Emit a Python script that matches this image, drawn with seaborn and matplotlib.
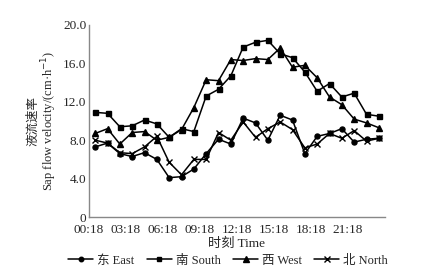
import numpy as np
import pandas as pd
import seaborn as sns
import matplotlib.pyplot as plt

# hourly readings, 00:18 .. 23:18
hours = np.arange(24)
east = [7.3, 7.7, 6.6, 6.3, 6.7, 6.0, 4.1, 4.2, 5.0, 6.6, 8.1, 7.6,
        10.3, 9.8, 8.0, 10.6, 10.1, 6.6, 8.4, 8.7, 9.2, 7.8, 8.1, 8.2]
south = [10.9, 10.8, 9.4, 9.5, 10.1, 9.7, 8.3, 9.2, 8.9, 12.6, 13.3, 14.7,
         17.7, 18.2, 18.4, 17.0, 16.6, 15.1, 13.1, 13.9, 12.5, 12.9, 10.7, 10.5]
west = [8.7, 9.2, 7.6, 8.8, 8.9, 8.0, 8.3, 9.1, 11.4, 14.3, 14.2, 16.4,
        16.3, 16.5, 16.4, 17.6, 15.6, 15.8, 14.5, 12.5, 11.7, 10.2, 9.8, 9.3]
north = [8.0, 7.7, 6.7, 6.6, 7.3, 8.4, 5.7, 4.4, 6.0, 6.0, 8.8, 8.0,
         9.9, 8.3, 9.2, 9.9, 9.1, 7.2, 7.6, 8.7, 8.2, 9.0, 7.9, 8.2]
series_names = ['东 East', '南 South', '西 West', '北 North']
tick_labels = ['00:18', '03:18', '06:18', '09:18', '12:18', '15:18', '18:18', '21:18', '']

df = pd.DataFrame({'hour': np.tile(hours, 4),
                   'v': east + south + west + north,
                   'dir': np.repeat(series_names, 24)})

sns.set_style('white')
plt.rcParams['font.family'] = ['Liberation Serif', 'Noto Sans CJK SC']
plt.rcParams['font.size'] = 9.5

fig = plt.figure(figsize=(4.21, 2.79), dpi=100)
ax = fig.add_axes([89 / 421, 62 / 279, 296 / 421, 192 / 279])

markers = {'东 East': 'o', '南 South': 's', '西 West': '^', '北 North': 'x'}
sizes = {'东 East': 3.6, '南 South': 3.6, '西 West': 4.2, '北 North': 4.5}
for name in series_names:
    sub = df[df['dir'] == name]
    sns.lineplot(data=sub, x='hour', y='v', ax=ax, color='black', lw=1.1,
                 marker=markers[name], markersize=sizes[name],
                 markeredgewidth=1.0, markeredgecolor='black', label=name)

ax.set_xlim(-0.5, 23.5)
ax.set_ylim(0, 20)
ax.set_xticks(np.arange(-0.5, 24, 3))
ax.set_xticklabels(tick_labels)
ax.set_yticks([0, 4, 8, 12, 16, 20])
ax.set_yticklabels(['0', '4.0', '8.0', '12.0', '16.0', '20.0'])
ax.tick_params(axis='x', direction='in', length=3, width=0.8, color='#777777', pad=5)
ax.tick_params(axis='y', length=0, pad=2)
for s in ['top', 'right']:
    ax.spines[s].set_visible(False)
for s in ['left', 'bottom']:
    ax.spines[s].set_color('#888888')
    ax.spines[s].set_linewidth(1.0)

ax.set_xlabel('时刻 Time', labelpad=1)
ax.set_ylabel('液流速率\nSap flow velocity/(cm·h$^{-1}$)', labelpad=3, linespacing=1.0,
              fontsize=9)

ax.legend(loc='upper center', bbox_to_anchor=(0.47, -0.17), ncol=4, frameon=False,
          handlelength=2.0, handletextpad=0.3, columnspacing=1.0, borderaxespad=0,
          markerscale=0.9, fontsize=9)

fig.savefig('out.png', dpi=100)
